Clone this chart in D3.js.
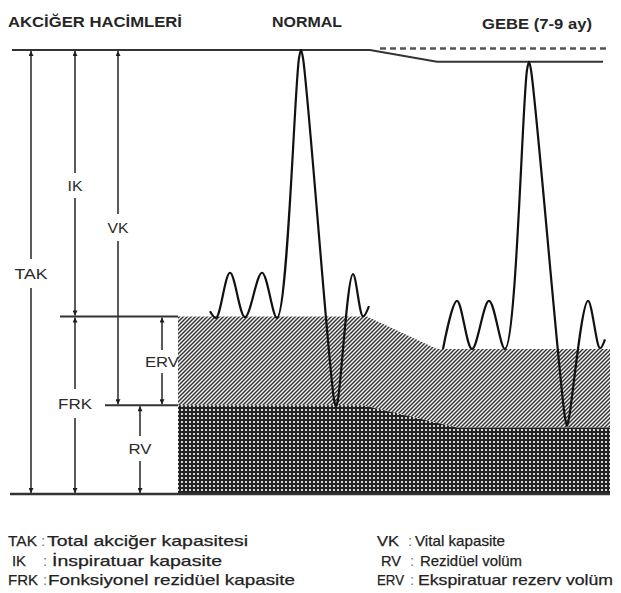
<!DOCTYPE html>
<html>
<head>
<meta charset="utf-8">
<script src="https://cdn.jsdelivr.net/npm/d3@7/dist/d3.min.js"></script>
<style>
  html, body { margin: 0; padding: 0; background: #fff; }
  svg { display: block; font-family: "Liberation Sans", Arial, sans-serif; }
</style>
</head>
<body>
<svg id="chart" width="621" height="593"></svg>
<script>
// ---------------- DATA (volumes in ml, time in s) ----------------
const panelTitles = ["NORMAL", "GEBE (7-9 ay)"];
const chartTitle = "AKCİĞER HACİMLERİ";

// lung levels: [TAK top, FRK top, RV top]
const normalLevels = [6000, 2400, 1200];
const gebeLevels = [5840, 1960, 900];

// spirogram trace – normal
const normalTraceT = [20.0, 20.6, 22.0, 23.5, 25.2, 26.7, 28.9, 29.1, 29.3, 32.4, 32.6, 32.8, 34.3, 35.3, 35.9];
const normalTraceV = [2470, 2380, 2990, 2390, 2990, 2380, 5890, 6000, 5890, 1280, 1180, 1280, 2970, 2400, 2540];
// spirogram trace – pregnancy (7-9 months)
const gebeTraceT = [43.3, 44.7, 46.2, 47.9, 49.5, 51.7, 51.9, 52.1, 55.5, 55.7, 55.9, 57.8, 59.0, 59.5];
const gebeTraceV = [1960, 2610, 1960, 2610, 1960, 5730, 5840, 5730, 1030, 920, 1030, 2610, 1970, 2090];

// volume labels and their (bottom, top) extents
const volumeNames = ["TAK", "IK", "FRK", "VK", "ERV", "RV"];
const volumeBottoms = [0, 2400, 0, 1200, 1200, 0];
const volumeTops = [6000, 6000, 2400, 6000, 2400, 1200];

const legendAbbr = ["TAK", "IK", "FRK", "VK", "RV", "ERV"];
const legendDesc = ["Total akciğer kapasitesi", "İnspiratuar kapasite", "Fonksiyonel rezidüel kapasite",
                    "Vital kapasite", "Rezidüel volüm", "Ekspiratuar rezerv volüm"];

// ---------------- LAYOUT ----------------
const svg = d3.select("#chart");
const x = d3.scaleLinear().domain([0, 60]).range([10, 610]);
const y = d3.scaleLinear().domain([0, 6000]).range([494, 50]);

const INK = "#1e1e1e";

function stretchText(sel, w) {
  sel.attr("textLength", w).attr("lengthAdjust", "spacingAndGlyphs");
  return sel;
}

// patterns
const defs = svg.append("defs");
const pErv = defs.append("pattern").attr("id", "hatch").attr("patternUnits", "userSpaceOnUse")
  .attr("width", 4).attr("height", 4);
pErv.append("rect").attr("width", 4).attr("height", 4).attr("fill", "#f2f2f2");
pErv.append("path").attr("d", "M-1,1 L1,-1 M0,4 L4,0 M3,5 L5,3")
  .attr("stroke", "#333").attr("stroke-width", 1.4);

const pRv = defs.append("pattern").attr("id", "dots").attr("patternUnits", "userSpaceOnUse")
  .attr("width", 4).attr("height", 4);
pRv.append("rect").attr("width", 4).attr("height", 4).attr("fill", "#222");
pRv.append("rect").attr("x", 1).attr("y", 1).attr("width", 2).attr("height", 2).attr("fill", "#d4d4d4");

// markers
function marker(id, d) {
  defs.append("marker").attr("id", id).attr("viewBox", "0 0 10 10")
    .attr("refX", 5).attr("refY", d === "up" ? 0 : 10)
    .attr("markerWidth", 5).attr("markerHeight", 6).attr("markerUnits", "userSpaceOnUse")
    .attr("orient", "0")
    .append("path").attr("d", d === "up" ? "M5,0 L10,10 L0,10 Z" : "M0,0 L10,0 L5,10 Z")
    .attr("fill", INK);
}
marker("up", "up");
marker("down", "down");

// regions
const tStart = x.invert(178), tEnd = 60;
const ervTop = [[tStart, normalLevels[1]], [x.invert(367), normalLevels[1]], [x.invert(437), gebeLevels[1]], [tEnd, gebeLevels[1]]];
const rvTop = [[tStart, normalLevels[2]], [x.invert(363), normalLevels[2]], [x.invert(457), gebeLevels[2]], [tEnd, gebeLevels[2]]];

const lineXY = d3.line().x(d => x(d[0])).y(d => y(d[1]));

const ervPoly = ervTop.concat(rvTop.slice().reverse());
svg.append("path").attr("d", lineXY(ervPoly) + "Z").attr("fill", "url(#hatch)");
const rvPoly = rvTop.concat([[tEnd, 0], [tStart, 0]]);
svg.append("path").attr("d", lineXY(rvPoly) + "Z").attr("fill", "url(#dots)");

// top line (TAK level) – normal then pregnancy
const topLine = [[x.invert(12), normalLevels[0]], [x.invert(370), normalLevels[0]], [x.invert(437), gebeLevels[0]], [x.invert(603), gebeLevels[0]]];
svg.append("path").attr("d", lineXY(topLine)).attr("fill", "none").attr("stroke", "#333").attr("stroke-width", 2);
// dashed line: normal TAK continued
svg.append("path").attr("d", lineXY([[x.invert(380), normalLevels[0] + 20], [x.invert(606), normalLevels[0] + 20]]))
  .attr("fill", "none").attr("stroke", "#555").attr("stroke-width", 2.5).attr("stroke-dasharray", "6,4");
// bottom line
svg.append("path").attr("d", lineXY([[0, 0], [60, 0]])).attr("fill", "none").attr("stroke", "#333").attr("stroke-width", 2.5);

// reference horizontals at left
svg.append("path").attr("d", lineXY([[x.invert(60), normalLevels[1]], [tStart, normalLevels[1]]]))
  .attr("stroke", "#333").attr("stroke-width", 2);
svg.append("path").attr("d", lineXY([[x.invert(105), normalLevels[2]], [tStart, normalLevels[2]]]))
  .attr("stroke", "#333").attr("stroke-width", 2);

// traces
const traceLine = d3.line().x(d => x(d[0])).y(d => y(d[1])).curve(d3.curveCatmullRom.alpha(0.5));
[[normalTraceT, normalTraceV], [gebeTraceT, gebeTraceV]].forEach(([T, V]) => {
  svg.append("path").attr("d", traceLine(T.map((t, i) => [t, V[i]])))
    .attr("fill", "none").attr("stroke", "#111").attr("stroke-width", 2.2).attr("stroke-linejoin", "round");
});

// vertical volume arrows with labels
const arrowX = [31, 75, 75, 118, 162, 140];
const labelY = [274, 186, 404, 228, 362, 449];
const labelW = [33, 15, 34, 21, 34, 23];
const labelHalfGap = [14, 12, 14, 13, 11, 12];
volumeNames.forEach((name, i) => {
  const xt = arrowX[i];
  const yTop = y(volumeTops[i]), yBot = y(volumeBottoms[i]);
  const g1 = labelY[i] - labelHalfGap[i] - 1, g2 = labelY[i] + labelHalfGap[i];
  svg.append("line").attr("x1", xt).attr("x2", xt).attr("y1", yTop + 1).attr("y2", g1)
    .attr("stroke", "#333").attr("stroke-width", 1.6).attr("marker-start", "url(#up)");
  svg.append("line").attr("x1", xt).attr("x2", xt).attr("y1", g2).attr("y2", yBot - 1)
    .attr("stroke", "#333").attr("stroke-width", 1.6).attr("marker-end", "url(#down)");
  const t = svg.append("text").attr("x", xt - labelW[i] / 2).attr("y", labelY[i]).attr("dy", "0.36em")
    .attr("font-size", 15).attr("fill", "#2a2a2a")
    .text(name);
  stretchText(t, labelW[i]);
});

// titles
stretchText(svg.append("text").attr("x", 8).attr("y", 27).attr("font-size", 14).attr("font-weight", "bold")
  .attr("fill", "#262626").text(chartTitle), 174);
stretchText(svg.append("text").attr("x", 272).attr("y", 27).attr("font-size", 14)
  .attr("font-weight", "bold").attr("fill", "#262626").text(panelTitles[0]), 70);
stretchText(svg.append("text").attr("x", 482).attr("y", 29).attr("font-size", 14)
  .attr("font-weight", "bold").attr("fill", "#262626").text(panelTitles[1]), 110);

// legend
const legRowY = [546, 566, 585];
const abbrX = [8, 12, 8, 377, 381, 377];
const abbrW = [29, 14, 30, 22, 20, 27];
const colonX = [41, 43, 43, 408, 410, 410];
const descX = [47, 52, 48, 415, 420, 418];
const descW = [201, 170, 247, 90, 102, 195];
legendAbbr.forEach((a, i) => {
  const row = i % 3;
  const g = svg.append("g").attr("font-size", 15).attr("fill", "#222")
    .attr("stroke", "#222").attr("stroke-width", 0.25);
  stretchText(g.append("text").attr("x", abbrX[i]).attr("y", legRowY[row]).text(a), abbrW[i]);
  g.append("text").attr("x", colonX[i]).attr("y", legRowY[row]).attr("fill", "#777").attr("stroke", "none").text(":");
  stretchText(g.append("text").attr("x", descX[i]).attr("y", legRowY[row]).text(legendDesc[i]), descW[i]);
});
</script>
</body>
</html>
